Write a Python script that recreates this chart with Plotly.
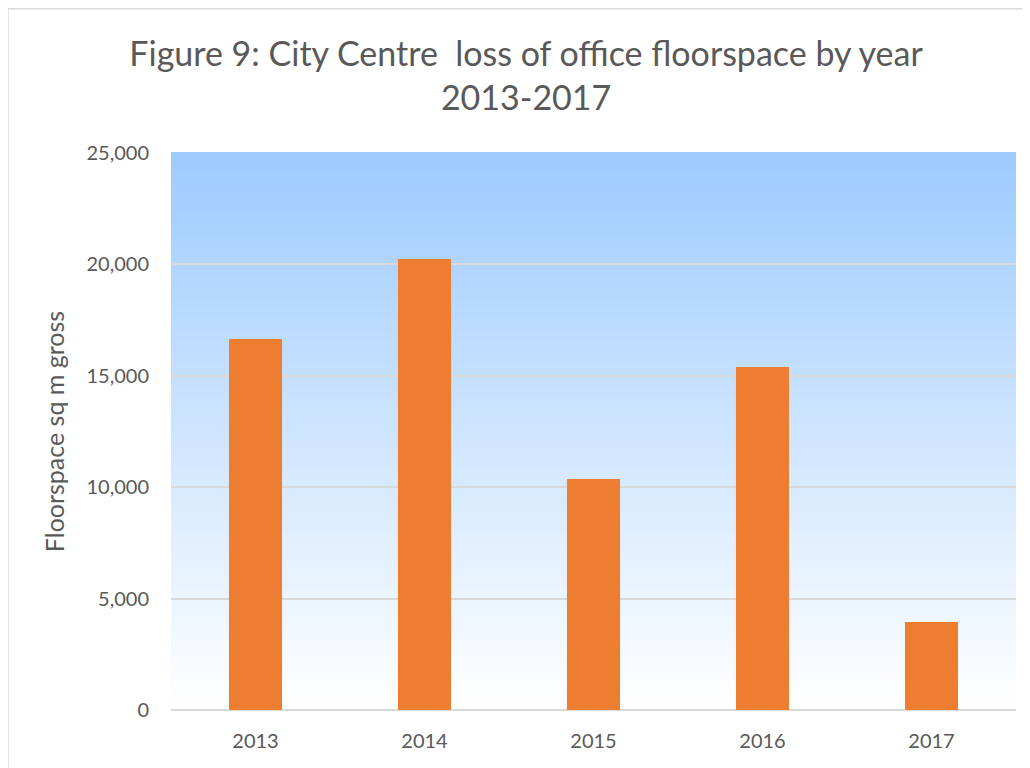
import plotly.graph_objects as go

years = ["2013", "2014", "2015", "2016", "2017"]
floorspace = [16650, 20240, 10370, 15400, 3950]
y_ticks = [0, 5000, 10000, 15000, 20000, 25000]
y_tick_labels = ["0", "5,000", "10,000", "15,000", "20,000", "25,000"]

FONT = "Lato"
TXT = "#595959"
GRID = "#D9D9D9"

fig = go.Figure()
fig.add_trace(go.Bar(x=years, y=floorspace, marker=dict(color="#ED7D31", line=dict(width=0))))

# gradient background for plot area (top light blue -> bottom white)
shapes = []
n = 140
top = (157, 203, 255)
bot = (255, 255, 255)
for i in range(n):
    t = i / (n - 1)  # 0 bottom -> 1 top
    c = tuple(round(bot[k] + (top[k] - bot[k]) * t) for k in range(3))
    shapes.append(dict(type="rect", xref="paper", yref="paper",
                       x0=0, x1=1, y0=i / n, y1=(i + 1) / n + 0.002,
                       fillcolor="rgb(%d,%d,%d)" % c, line=dict(width=0), layer="below"))
# outer chart border (left/top visible)
shapes.append(dict(type="rect", xref="paper", yref="paper",
                   x0=-0.193, x1=1.2, y0=-0.3, y1=1.259,
                   line=dict(color=GRID, width=1.5), fillcolor="rgba(0,0,0,0)", layer="below"))

fig.update_layout(
    width=1030, height=768,
    margin=dict(l=163, r=22, t=145, b=66),
    paper_bgcolor="white", plot_bgcolor="white",
    shapes=shapes,
    bargap=0.686,
    showlegend=False,
    title=dict(text="Figure 9: City Centre  loss of office floorspace by year<br>2013-2017",
               x=0.503, xanchor="center", xref="container",
               y=1 - 58 / 768, yanchor="top", yref="container",
               font=dict(family=FONT, size=34, color=TXT)),
    font=dict(family=FONT, color=TXT),
    xaxis=dict(showgrid=False, showline=False, zeroline=False,
               tickfont=dict(family=FONT, size=20, color=TXT), ticklabelstandoff=17),
    yaxis=dict(range=[0, 25000], tickvals=y_ticks, ticktext=y_tick_labels,
               showgrid=True, gridcolor=GRID, gridwidth=1.5,
               zeroline=True, zerolinecolor=GRID, zerolinewidth=1.5,
               showline=False, ticklabelstandoff=21,
               tickfont=dict(family=FONT, size=20, color=TXT),
               title=dict(text="Floorspace sq m gross", standoff=14,
                          font=dict(family=FONT, size=25, color=TXT))),
)

fig.write_html("out.html")
